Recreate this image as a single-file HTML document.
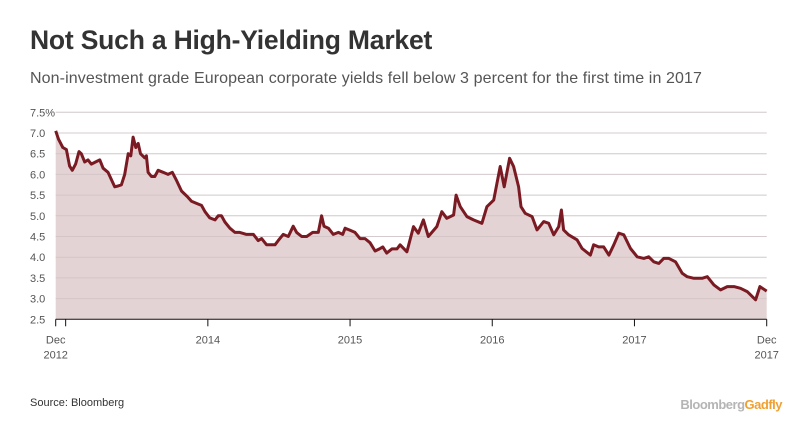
<!DOCTYPE html>
<html><head><meta charset="utf-8"><style>
body{margin:0;width:812px;height:443px;background:#fff;font-family:"Liberation Sans",sans-serif;overflow:hidden}
#title{position:absolute;left:30px;top:25px;font-size:26.5px;font-weight:bold;color:#333;letter-spacing:-0.2px}
#sub{position:absolute;left:30px;top:70px;font-size:16px;color:#555;letter-spacing:0.1px}
#src{position:absolute;left:30px;top:397px;font-size:11px;color:#333}
#brand{position:absolute;right:30px;top:397px;font-size:13px;font-weight:bold;color:#b5b5b5;letter-spacing:-0.5px}
#brand span{color:#f0a030}
svg{position:absolute;left:0;top:0}
</style></head><body>
<div id="title">Not Such a High-Yielding Market</div>
<div id="sub">Non-investment grade European corporate yields fell below 3 percent for the first time in 2017</div>
<svg id="chart" width="812" height="443"></svg>
<div id="src">Source: Bloomberg</div>
<div id="brand">Bloomberg<span>Gadfly</span></div>
<script>
// years since Jan 1 2013
const dates=[-0.07,-0.05,-0.02,0.005,0.028,0.047,0.07,0.094,0.11,0.134,0.157,0.18,0.21,0.24,0.263,0.298,0.345,0.368,0.392,0.415,0.44,0.458,0.474,0.493,0.51,0.526,0.556,0.568,0.58,0.603,0.627,0.65,0.685,0.72,0.75,0.78,0.815,0.86,0.885,0.92,0.955,0.98,1.014,1.05,1.073,1.096,1.12,1.155,1.19,1.225,1.272,1.32,1.354,1.378,1.413,1.472,1.495,1.53,1.566,1.6,1.624,1.66,1.695,1.737,1.777,1.8,1.817,1.848,1.882,1.918,1.948,1.965,2.0,2.035,2.07,2.105,2.14,2.176,2.207,2.23,2.258,2.294,2.33,2.352,2.4,2.446,2.48,2.516,2.55,2.61,2.645,2.68,2.728,2.746,2.775,2.822,2.868,2.927,2.962,3.01,3.056,3.084,3.122,3.15,3.185,3.202,3.232,3.28,3.315,3.362,3.397,3.432,3.467,3.486,3.502,3.537,3.596,3.632,3.69,3.713,3.748,3.784,3.82,3.855,3.89,3.925,3.972,4.019,4.066,4.1,4.136,4.171,4.206,4.242,4.289,4.336,4.371,4.418,4.476,4.512,4.559,4.606,4.653,4.7,4.746,4.793,4.852,4.882,4.93];
const yields=[7.05,6.85,6.65,6.6,6.2,6.1,6.25,6.55,6.5,6.3,6.35,6.25,6.3,6.35,6.15,6.05,5.7,5.72,5.75,6.0,6.5,6.45,6.9,6.65,6.75,6.5,6.4,6.45,6.05,5.95,5.95,6.1,6.05,6.0,6.05,5.85,5.6,5.45,5.35,5.3,5.25,5.1,4.95,4.9,5.0,5.0,4.85,4.7,4.6,4.6,4.55,4.55,4.4,4.45,4.3,4.3,4.4,4.55,4.5,4.75,4.6,4.5,4.5,4.6,4.6,5.0,4.75,4.7,4.55,4.6,4.55,4.7,4.65,4.6,4.45,4.45,4.35,4.15,4.2,4.25,4.1,4.2,4.2,4.3,4.13,4.74,4.58,4.9,4.5,4.74,5.1,4.94,5.02,5.5,5.22,4.98,4.9,4.82,5.22,5.38,6.19,5.7,6.39,6.19,5.7,5.22,5.06,4.98,4.66,4.86,4.82,4.54,4.74,5.14,4.66,4.54,4.42,4.21,4.05,4.3,4.25,4.25,4.05,4.3,4.58,4.54,4.21,4.01,3.97,4.01,3.89,3.85,3.97,3.97,3.89,3.61,3.53,3.49,3.49,3.53,3.33,3.21,3.29,3.29,3.25,3.17,2.97,3.29,3.18];
const yTicks=[2.5,3.0,3.5,4.0,4.5,5.0,5.5,6.0,6.5,7.0,7.5];
const yTickLabels=["2.5","3.0","3.5","4.0","4.5","5.0","5.5","6.0","6.5","7.0","7.5%"];
const xTicks=[-0.07,0,1,2,3,4,4.93];
const xTickLabels=[["Dec","2012"],["",""],["2014",""],["2015",""],["2016",""],["2017",""],["Dec","2017"]];
const X0=55.7,X1=766.7,T0=-0.07,T1=4.93,Y0=319.3,Y1=112.3,V0=2.5,V1=7.5;
const xs=t=>X0+(t-T0)/(T1-T0)*(X1-X0);
const ys=v=>Y0+(v-V0)/(V1-V0)*(Y1-Y0);
const NS="http://www.w3.org/2000/svg",svg=document.getElementById('chart');
function mk(tag,attrs){const e=document.createElementNS(NS,tag);for(const k in attrs)e.setAttribute(k,attrs[k]);svg.appendChild(e);return e;}
yTicks.forEach((v,i)=>{
  if(i>0){const g=mk('line',{x1:X0,x2:X1,y1:ys(v),y2:ys(v),stroke:'#e2e2e8','stroke-width':1});
  
  }
  const t=mk('text',{x:30,y:ys(v)+4,'font-size':11,fill:'#555','font-family':'Liberation Sans, sans-serif'});
  t.textContent=yTickLabels[i];
  
  
});
let d='M'+xs(dates[0])+','+Y0;
dates.forEach((t,i)=>{d+=' L'+xs(t).toFixed(1)+','+ys(yields[i]).toFixed(1);});
d+=' L'+xs(dates[dates.length-1])+','+Y0+' Z';
const area=mk('path',{d:d,fill:'#e4d3d4'});


yTicks.slice(1).forEach(v=>{const g=mk('line',{x1:X0,x2:X1,y1:ys(v),y2:ys(v),stroke:'#cbbcbf','stroke-width':1,opacity:0.6});

});
const line=mk('polyline',{points:dates.map((t,i)=>xs(t).toFixed(1)+','+ys(yields[i]).toFixed(1)).join(' '),fill:'none',stroke:'#7a1a22','stroke-width':3,'stroke-linejoin':'round'});


const ax=mk('line',{x1:X0,x2:X1,y1:Y0,y2:Y0,stroke:'#111','stroke-width':1});


xTicks.forEach((t,i)=>{
  const tk=mk('line',{x1:xs(t),x2:xs(t),y1:Y0,y2:Y0+7,stroke:'#111','stroke-width':1});
  
  
  xTickLabels[i].forEach((s,j)=>{if(!s)return;
    const tx=mk('text',{x:xs(t),y:Y0+24+j*15,'font-size':11,fill:'#555','text-anchor':'middle','font-family':'Liberation Sans, sans-serif'});
    tx.textContent=s;
    
    });
});
</script>
</body></html>
